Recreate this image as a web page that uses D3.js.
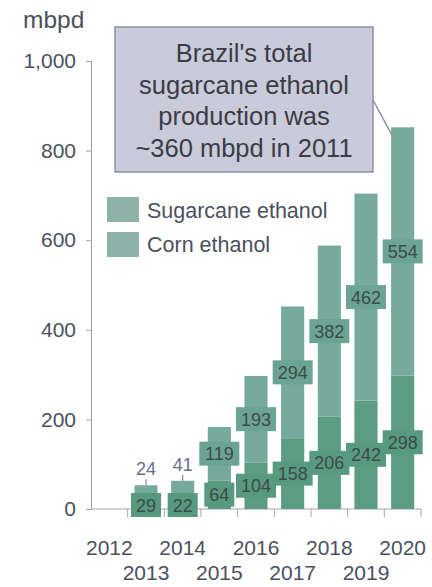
<!DOCTYPE html>
<html>
<head>
<meta charset="utf-8">
<script src="https://cdn.jsdelivr.net/npm/d3@7/dist/d3.min.js"></script>
<style>
  html, body { margin: 0; padding: 0; background: #ffffff; }
  svg { display: block; font-family: "Liberation Sans", Arial, sans-serif; }
</style>
</head>
<body>
<svg id="chart" width="432" height="587"></svg>
<script>
// Production by year, mbpd
const years = ["2012", "2013", "2014", "2015", "2016", "2017", "2018", "2019", "2020"];
const sugarcane = [0, 29, 22, 64, 104, 158, 206, 242, 298];
const corn = [0, 24, 41, 119, 193, 294, 382, 462, 554];
const seriesNames = ["Sugarcane ethanol", "Corn ethanol"];
const yTicks = [0, 200, 400, 600, 800, 1000];
const note = ["Brazil's total", "sugarcane ethanol", "production was", "~360 mbpd in 2011"];

const svg = d3.select("#chart");
const textColor = "#4b505e";
const axisColor = "#a3a5b0";
const barColors = ["#5c9c83", "#75aa9d"];
const boxColors = ["#589a7f", "#6ba494"];
const legendColor = "#8db3a8";

const x = d3.scaleBand().domain(years).range([91, 421]).paddingInner(0.37).paddingOuter(0.185);
const y = d3.scaleLinear().domain([0, 1000]).range([509, 61]);

const rows = years.map((yr, i) => ({ year: yr, sugarcane: sugarcane[i], corn: corn[i] }));
const stack = d3.stack().keys(["sugarcane", "corn"]);
const layers = stack(rows);

// Y axis
const yAxis = svg.append("g").attr("transform", "translate(91,0)")
  .call(d3.axisLeft(y).tickValues(yTicks).tickFormat(d3.format(",")).tickSize(5).tickPadding(10));
yAxis.select(".domain").attr("stroke", axisColor).attr("stroke-width", 1.2);
yAxis.selectAll(".tick line").attr("stroke", axisColor);
yAxis.selectAll(".tick text").attr("fill", textColor).attr("font-size", 21)
  .attr("font-family", "Liberation Sans, Arial, sans-serif");

svg.append("text").attr("x", 23).attr("y", 28).attr("fill", textColor)
  .attr("font-size", 24.5).text("mbpd");

// X axis: ticks at band boundaries, year labels staggered on two rows
const step = x.step();
const bounds = years.map((d, i) => x.range()[0] + i * step).concat([x.range()[1]]);
svg.append("line").attr("x1", 91).attr("x2", 421).attr("y1", y(0)).attr("y2", y(0))
  .attr("stroke", axisColor).attr("stroke-width", 1.2);
svg.selectAll(".xtick").data(bounds.slice(1)).join("line")
  .attr("x1", d => d).attr("x2", d => d).attr("y1", y(0)).attr("y2", y(0) + 8)
  .attr("stroke", axisColor);
svg.selectAll(".xlabel").data(years).join("text")
  .attr("x", d => x(d) + x.bandwidth() / 2)
  .attr("y", (d, i) => i % 2 === 0 ? 555 : 580)
  .attr("text-anchor", "middle").attr("fill", textColor).attr("font-size", 21)
  .text(d => d);

// Bars
layers.forEach((layer, li) => {
  svg.append("g").selectAll("rect").data(layer.filter(d => d[1] > d[0])).join("rect")
    .attr("x", d => x(d.data.year))
    .attr("width", x.bandwidth())
    .attr("y", d => y(d[1]))
    .attr("height", d => y(d[0]) - y(d[1]))
    .attr("fill", barColors[li]);
});

// Value labels
const labelG = svg.append("g");
layers.forEach((layer, li) => {
  layer.forEach(d => {
    const v = d[1] - d[0];
    if (v <= 0) return;
    const cx = x(d.data.year) + x.bandwidth() / 2;
    const segH = y(d[0]) - y(d[1]);
    const txt = String(v);
    if (li === 1 && segH < 24) {
      // small top segments: label above the bar with a short leader
      labelG.append("line").attr("x1", cx).attr("x2", cx)
        .attr("y1", y(d[1])).attr("y2", y(d[1]) - 6)
        .attr("stroke", "#8a86a0").attr("stroke-width", 1.2);
      labelG.append("text").attr("x", cx).attr("y", y(d[1]) - 10)
        .attr("text-anchor", "middle").attr("fill", "#6f6b8c").attr("font-size", 18)
        .text(txt);
    } else {
      const cy = li === 0 ? Math.min((y(d[0]) + y(d[1])) / 2, y(0) - 8) + (segH < 20 ? 4 : 0)
                          : (y(d[0]) + y(d[1])) / 2;
      const w = txt.length * 10 + 10;
      labelG.append("rect").attr("x", cx - w / 2).attr("y", cy - 12)
        .attr("width", w).attr("height", 24).attr("fill", boxColors[li]);
      labelG.append("text").attr("x", cx).attr("y", cy + 6.5)
        .attr("text-anchor", "middle").attr("fill", "#3e4a4a").attr("font-size", 18)
        .text(txt);
    }
  });
});

// Legend
const legend = svg.append("g");
seriesNames.forEach((name, i) => {
  legend.append("rect").attr("x", 107).attr("y", 197 + i * 35)
    .attr("width", 32).attr("height", 25).attr("fill", legendColor);
  legend.append("text").attr("x", 147).attr("y", 218 + i * 34)
    .attr("fill", textColor).attr("font-size", 21.5).text(name);
});

// Callout box pointing at the 2020 total
const last = layers[1][years.length - 1];
svg.append("line")
  .attr("x1", 373).attr("y1", 100)
  .attr("x2", x("2020") + 2).attr("y2", y(last[1]) + 10)
  .attr("stroke", "#8c90a2").attr("stroke-width", 1.5);
svg.append("rect").attr("x", 115).attr("y", 27).attr("width", 258).attr("height", 145)
  .attr("fill", "#c9cbdb").attr("stroke", "#8c90a2").attr("stroke-width", 1.5);
svg.append("g").selectAll("text").data(note).join("text")
  .attr("x", 244).attr("y", (d, i) => 62 + i * 31.5)
  .attr("text-anchor", "middle").attr("fill", "#3b3c44").attr("font-size", 25.5)
  .text(d => d);
</script>
</body>
</html>
